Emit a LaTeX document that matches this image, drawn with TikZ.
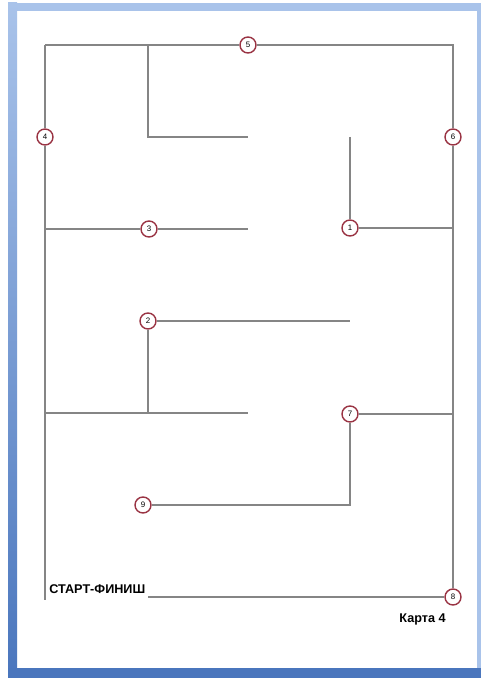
\documentclass[tikz,border=0pt]{standalone}
\usepackage{fontspec}
\newfontfamily\mapfont{Liberation Sans}
\usetikzlibrary{positioning,calc}
\definecolor{framelight}{HTML}{A9C3EA}
\definecolor{framedark}{HTML}{4A76BD}
\definecolor{wallgray}{HTML}{858585}
\definecolor{pointred}{HTML}{9A3444}
\tikzset{
  mazewall/.style={draw=wallgray, line width=0.9pt},
  checkpt/.style={circle, draw=pointred, line width=0.8pt, fill=white, minimum size=0.32cm, inner sep=0pt, font=\mapfont\fontsize{4.5}{4.5}\selectfont},
  maplabel/.style={inner sep=0pt, font=\mapfont\bfseries\fontsize{7.2}{8}\selectfont},
}

\begin{document}
\begin{tikzpicture}[x=0.02cm, y=-0.02cm]
    % page and window frame
    \useasboundingbox (0,0) rectangle (481,678);
    \fill[white] (0,0) rectangle (481,678);
    \fill[framelight] (8,3) rectangle (481,11);
    \fill[framelight] (477,3) rectangle (481,668);
    \shade[top color=framelight, bottom color=framedark] (8,3) rectangle (17,678);
    \fill[framedark] (8,668) rectangle (481,678);
    % corners of the maze
    \coordinate (tl) at (45,45);
    \coordinate (tr) at (453,45);
    \coordinate (bl) at (45,600);
    % checkpoints
    \node[checkpt] (c1) at (350,228) {1};
    \node[checkpt] (c2) at (148,321) {2};
    \node[checkpt] (c3) at (149,229) {3};
    \node[checkpt] (c4) at (45,137) {4};
    \node[checkpt] (c5) at (248,45) {5};
    \node[checkpt] (c6) at (453,137) {6};
    \node[checkpt] (c7) at (350,414) {7};
    \node[checkpt] (c8) at (453,597) {8};
    \node[checkpt] (c9) at (143,505) {9};
    % wall ends
    \coordinate (a1) at (148,45);
    \coordinate (a2) at (148,137);
    \coordinate (a3) at (248,137);
    \coordinate (b1) at (350,137);
    \coordinate (b2) at (453,228);
    \coordinate (d1) at (45,229);
    \coordinate (d2) at (248,229);
    \coordinate (e1) at (350,321);
    \coordinate (e2) at (148,413);
    \coordinate (f1) at (45,413);
    \coordinate (f2) at (248,413);
    \coordinate (g1) at (453,414);
    \coordinate (g2) at (350,505);
    \coordinate (h1) at (148,597);
    % walls
    \draw[mazewall] (tl) -- (c5) -- (tr) -- (c6) -- (c8);
    \draw[mazewall] (tl) -- (c4) -- (bl);
    \draw[mazewall] (a1) -- (a2) -- (a3);
    \draw[mazewall] (b1) -- (c1) -- (b2);
    \draw[mazewall] (d1) -- (c3) -- (d2);
    \draw[mazewall] (c2) -- (e1);
    \draw[mazewall] (c2) -- (e2);
    \draw[mazewall] (f1) -- (f2);
    \draw[mazewall] (c7) -- (g1);
    \draw[mazewall] (c7) -- (g2) -- (c9);
    \draw[mazewall] (h1) -- (c8);
    % labels
    \node[maplabel, anchor=base west] (start) at (49,593) {СТАРТ-ФИНИШ};
    \node[maplabel, anchor=base east] (map) at (446,622) {Карта 4};
\end{tikzpicture}
\end{document}
